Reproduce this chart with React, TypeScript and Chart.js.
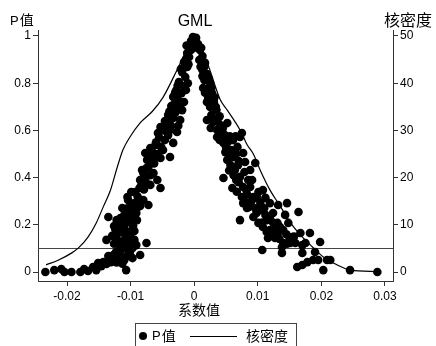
import React, { useEffect, useRef } from "react";
import { Chart, registerables } from "chart.js";

Chart.register(...registerables);

// Coefficient estimates (x) and their p-values (y)
const coefX = [
  -0.0234, -0.0220, -0.0209, -0.0204, -0.0193, -0.0179, -0.0173, -0.0167, -0.0159, -0.0154,
  -0.0151, -0.0146, -0.0143, -0.0138, -0.0135, -0.0131, -0.0107, -0.0126, -0.0135, -0.0127,
  -0.0123, -0.0115, -0.0107, -0.0118, -0.0112, -0.0104, -0.0101, -0.0097, -0.0108, -0.0085,
  -0.0075, -0.0138, -0.0129, -0.0119, -0.0112, -0.0105, -0.0099, -0.0094, -0.0119, -0.0116,
  -0.0135, -0.0126, -0.0110, -0.0102, -0.0096, -0.0107, -0.0099, -0.0113, -0.0093, -0.0088,
  -0.0104, -0.0096, -0.0090, -0.0091, -0.0097, -0.0121, -0.0094, -0.0118, -0.0105, -0.0093,
  -0.0080, -0.0072, -0.0053, -0.0082, -0.0072, -0.0064, -0.0058, -0.0085, -0.0086, -0.0077,
  -0.0069, -0.0053, -0.0038, -0.0033, -0.0057, -0.0046, -0.0027, -0.0050, -0.0041, -0.0030,
  -0.0074, -0.0064, -0.0061, -0.0079, -0.0069, -0.0090, -0.0099, -0.0049, -0.0038, -0.0002,
  -0.0005, -0.0008, -0.0011, -0.0008, -0.0016, -0.0011, -0.0019, -0.0014, -0.0024, -0.0016,
  -0.0028, -0.0020, -0.0033, -0.0025, -0.0016, -0.0036, -0.0028, -0.0019, -0.0041, -0.0033,
  -0.0022, -0.0044, -0.0036, -0.0053, -0.0013, -0.0005,
  -0.0012, -0.0003, -0.0013, -0.0021, -0.0009, -0.0026, -0.0010, -0.0030, -0.0022, -0.0032,
  -0.0039, -0.0046, -0.0025, -0.0048, -0.0041, -0.0055, -0.0060, -0.0052, -0.0066, -0.0058,
  -0.0071, -0.0063, -0.0075, -0.0069, -0.0080, -0.0076, -0.0083, -0.0079, -0.0089, -0.0098,
  -0.0085, -0.0105, -0.0091, -0.0110, -0.0101, -0.0122, -0.0108, -0.0113, -0.0124, -0.0103,
  -0.0109, -0.0126, -0.0114, -0.0103, -0.0120, -0.0110, -0.0113, -0.0122,
  0.0003, 0.0006, 0.0009, 0.0013, 0.0008, 0.0017, 0.0013, 0.0020, 0.0016, 0.0025,
  0.0019, 0.0028, 0.0022, 0.0031, 0.0025, 0.0035, 0.0027, 0.0038, 0.0030, 0.0020,
  0.0041, 0.0014, 0.0036, 0.0044, 0.0052, 0.0036, 0.0046, 0.0053, 0.0061, 0.0072,
  0.0075, 0.0068, 0.0052, 0.0061, 0.0077, 0.0080, 0.0096, 0.0064, 0.0072, 0.0046,
  0.0085, 0.0088, 0.0060, 0.0075, 0.0101, 0.0108, 0.0099, 0.0104, 0.0119, 0.0132,
  0.0146, 0.0057, 0.0069, 0.0079, 0.0049, 0.0058, 0.0088, 0.0082, 0.0093, 0.0112,
  0.0164, 0.0066, 0.0091, 0.0083, 0.0077, 0.0085, 0.0104, 0.0093, 0.0101, 0.0108,
  0.0119, 0.0124, 0.0131, 0.0135, 0.0140, 0.0148, 0.0116, 0.0127, 0.0140, 0.0151,
  0.0159, 0.0170, 0.0175, 0.0182, 0.0167, 0.0198, 0.0107, 0.0138, 0.0138, 0.0170,
  0.0190, 0.0162, 0.0170, 0.0178, 0.0187, 0.0195, 0.0203, 0.0209, 0.0214, 0.0245,
  0.0288, 0.0072, 0.0112, 0.0119, 0.0154, 0.0143,
  0.0011, 0.0004, 0.0016, 0.0010, 0.0023, 0.0013, 0.0027, 0.0017, 0.0032, 0.0020,
  0.0034, 0.0040, 0.0033, 0.0045, 0.0026, 0.0048, 0.0040, 0.0056, 0.0065, 0.0050,
  0.0058, 0.0066, 0.0070, 0.0055, 0.0062, 0.0070, 0.0077, 0.0067, 0.0083, 0.0090,
  0.0079, 0.0096, 0.0110, 0.0098, 0.0114, 0.0124, 0.0107, 0.0127, 0.0114, 0.0131,
  0.0122, 0.0145, 0.0134, 0.0150, 0.0157, 0.0146,
];
const pValues = [
  0.000, 0.008, 0.013, 0.000, 0.000, 0.000, 0.013, 0.004, 0.021, 0.008,
  0.038, 0.025, 0.042, 0.034, 0.051, 0.042, 0.008, 0.055, 0.068, 0.072,
  0.085, 0.093, 0.106, 0.114, 0.127, 0.123, 0.085, 0.059, 0.064, 0.072,
  0.123, 0.136, 0.153, 0.165, 0.169, 0.153, 0.144, 0.174, 0.208, 0.229,
  0.233, 0.195, 0.195, 0.212, 0.195, 0.250, 0.263, 0.271, 0.292, 0.305,
  0.305, 0.242, 0.220, 0.114, 0.102, 0.136, 0.136, 0.059, 0.318, 0.339,
  0.305, 0.284, 0.356, 0.432, 0.445, 0.419, 0.390, 0.390, 0.356, 0.504,
  0.525, 0.483, 0.487, 0.547, 0.589, 0.559, 0.593, 0.614, 0.644, 0.674,
  0.475, 0.475, 0.538, 0.403, 0.369, 0.271, 0.339, 0.517, 0.602, 0.996,
  0.979, 0.953, 0.928, 0.911, 0.890, 0.869, 0.847, 0.826, 0.805, 0.788,
  0.771, 0.758, 0.742, 0.729, 0.720, 0.703, 0.691, 0.686, 0.665, 0.653,
  0.644, 0.627, 0.619, 0.614, 0.771, 0.941,
  0.960, 0.970, 0.900, 0.860, 0.880, 0.790, 0.800, 0.760, 0.710, 0.710,
  0.680, 0.640, 0.620, 0.600, 0.580, 0.570, 0.550, 0.530, 0.510, 0.500,
  0.490, 0.460, 0.440, 0.410, 0.420, 0.380, 0.370, 0.350, 0.320, 0.290,
  0.280, 0.270, 0.250, 0.240, 0.230, 0.220, 0.210, 0.180, 0.180, 0.170,
  0.140, 0.120, 0.100, 0.090, 0.075, 0.050, 0.035, 0.040,
  0.992, 0.966, 0.941, 0.915, 0.898, 0.886, 0.856, 0.839, 0.814, 0.801,
  0.775, 0.758, 0.737, 0.720, 0.699, 0.686, 0.665, 0.653, 0.636, 0.644,
  0.623, 0.780, 0.602, 0.595, 0.631, 0.572, 0.547, 0.551, 0.559, 0.572,
  0.589, 0.530, 0.475, 0.487, 0.504, 0.466, 0.462, 0.432, 0.403, 0.398,
  0.390, 0.360, 0.356, 0.318, 0.339, 0.347, 0.314, 0.292, 0.292, 0.284,
  0.292, 0.453, 0.453, 0.424, 0.508, 0.517, 0.432, 0.347, 0.318, 0.314,
  0.254, 0.390, 0.390, 0.271, 0.292, 0.275, 0.263, 0.233, 0.208, 0.191,
  0.178, 0.250, 0.208, 0.191, 0.178, 0.208, 0.144, 0.144, 0.123, 0.123,
  0.123, 0.114, 0.123, 0.165, 0.165, 0.127, 0.093, 0.106, 0.081, 0.081,
  0.085, 0.021, 0.030, 0.042, 0.051, 0.051, 0.008, 0.051, 0.051, 0.008,
  0.000, 0.220, 0.242, 0.229, 0.148, 0.242,
  0.950, 0.950, 0.870, 0.870, 0.820, 0.830, 0.780, 0.760, 0.740, 0.720,
  0.700, 0.660, 0.640, 0.610, 0.610, 0.580, 0.560, 0.575, 0.575, 0.530,
  0.490, 0.500, 0.470, 0.430, 0.410, 0.380, 0.360, 0.340, 0.330, 0.300,
  0.300, 0.270, 0.270, 0.250, 0.220, 0.210, 0.210, 0.180, 0.170, 0.160,
  0.160, 0.160, 0.140, 0.140, 0.150, 0.120,
];

// Kernel density curve
const densityX = [
  -0.0233, -0.0214, -0.0193, -0.0182, -0.0167, -0.0154, -0.0143, -0.0132, -0.0121, -0.0112,
  -0.0101, -0.0085, -0.0066, -0.0049, -0.0027, -0.0010, 0.0001, 0.0020, 0.0041, 0.0052,
  0.0072, 0.0083, 0.0093, 0.0104, 0.0119, 0.0135, 0.0151, 0.0164, 0.0186, 0.0203,
  0.0225, 0.0245, 0.0288,
];
const densityY = [
  1.5, 2.5, 4.0, 5.1, 7.4, 10.4, 13.8, 17.2, 22.2, 25.9,
  28.6, 31.6, 34.0, 37.0, 42.8, 47.5, 49.5, 44.5, 36.5, 34.3,
  30.1, 27.0, 25.0, 21.5, 17.4, 14.0, 10.5, 8.3, 5.3, 3.2,
  1.5, 0.4, 0.1,
];

const xTicks = [-0.02, -0.01, 0, 0.01, 0.02, 0.03];
const pTicks = [0, 0.2, 0.4, 0.6, 0.8, 1];
const densityTicks = [0, 10, 20, 30, 40, 50];
const refLineP = 0.1;

const titleText = "GML";
const leftAxisTitle = "P值";
const rightAxisTitle = "核密度";
const xAxisTitle = "系数值";
const legendPoint = "P值";
const legendLine = "核密度";

const X_MIN = -0.02456;
const X_MAX = 0.03126;
const P_MIN = -0.0381;
const P_MAX = 1.0254;
const D_SCALE = 50;

const SANS = '"Liberation Sans", Arial, sans-serif';
const CJK = '"Noto Sans CJK SC", "Noto Sans", sans-serif';
const AXIS_COLOR = "#333";

const fmt = (v: number) => String(+v.toFixed(3));

const annotations = {
  id: "stataAnnotations",
  beforeDatasetsDraw(chart: any) {
    const { ctx, chartArea, scales } = chart;
    const y = Math.round(scales.y.getPixelForValue(refLineP)) + 0.5;
    ctx.save();
    ctx.strokeStyle = "#444";
    ctx.lineWidth = 1;
    ctx.beginPath();
    ctx.moveTo(chartArea.left, y);
    ctx.lineTo(chartArea.right, y);
    ctx.stroke();
    ctx.restore();
  },
  afterDraw(chart: any) {
    const { ctx } = chart;
    ctx.save();
    ctx.fillStyle = "#000";
    ctx.textBaseline = "alphabetic";
    ctx.font = `16px ${SANS}`;
    ctx.textAlign = "center";
    ctx.fillText(titleText, 195, 26);
    ctx.textAlign = "left";
    ctx.font = `13px ${SANS}`;
    ctx.fillText(leftAxisTitle.slice(0, 1), 10, 25);
    const pw = ctx.measureText(leftAxisTitle.slice(0, 1)).width;
    ctx.font = `14px ${CJK}`;
    ctx.fillText(leftAxisTitle.slice(1), 10 + pw + 1, 25);
    ctx.font = `16px ${CJK}`;
    ctx.fillText(rightAxisTitle, 384, 26);
    ctx.textAlign = "center";
    ctx.font = `14px ${CJK}`;
    ctx.fillText(xAxisTitle, 199, 315);

    ctx.strokeStyle = "#444";
    ctx.lineWidth = 1;
    ctx.strokeRect(135.5, 323.5, 161, 30);
    const ly = 336;
    ctx.beginPath();
    ctx.arc(143, ly, 4, 0, Math.PI * 2);
    ctx.fill();
    ctx.textAlign = "left";
    ctx.textBaseline = "middle";
    ctx.font = `13px ${SANS}`;
    ctx.fillText(legendPoint.slice(0, 1), 152, ly);
    const lw = ctx.measureText(legendPoint.slice(0, 1)).width;
    ctx.font = `14px ${CJK}`;
    ctx.fillText(legendPoint.slice(1), 152 + lw + 1, ly);
    ctx.strokeStyle = "#000";
    ctx.lineWidth = 1.2;
    ctx.beginPath();
    ctx.moveTo(190, ly + 0.5);
    ctx.lineTo(237, ly + 0.5);
    ctx.stroke();
    ctx.font = `14px ${CJK}`;
    ctx.fillText(legendLine, 246, ly);
    ctx.restore();
  },
};

export default function App() {
  const canvasRef = useRef<HTMLCanvasElement | null>(null);

  useEffect(() => {
    if (!canvasRef.current) return;
    const scatterData = coefX.map((x, i) => ({ x, y: pValues[i] }));
    const densityData = densityX.map((x, i) => ({ x, y: densityY[i] }));
    const tickCommon = {
      color: "#000",
      font: { family: SANS, size: 12 },
    };
    const gridCommon = {
      display: true,
      drawOnChartArea: false,
      drawTicks: true,
      tickLength: 5,
      color: AXIS_COLOR,
      lineWidth: 1,
    };
    const chart = new Chart(canvasRef.current, {
      type: "scatter",
      data: {
        datasets: [
          {
            type: "scatter",
            label: legendPoint,
            data: scatterData,
            xAxisID: "x",
            yAxisID: "y",
            pointRadius: 4.3,
            pointBorderWidth: 0,
            pointBackgroundColor: "#000",
            backgroundColor: "#000",
            borderColor: "#000",
          },
          {
            type: "line",
            label: legendLine,
            data: densityData,
            xAxisID: "x",
            yAxisID: "y2",
            borderColor: "#000",
            borderWidth: 1.2,
            pointRadius: 0,
            fill: false,
            cubicInterpolationMode: "monotone",
          },
        ],
      } as any,
      options: {
        responsive: false,
        animation: false,
        layout: { padding: { top: 30, left: 0, right: 0, bottom: 0 } },
        plugins: {
          legend: { display: false },
          title: { display: false },
          tooltip: { enabled: false },
        },
        scales: {
          x: {
            type: "linear",
            position: "bottom",
            min: X_MIN,
            max: X_MAX,
            afterBuildTicks: (s: any) => {
              s.ticks = xTicks.map((v) => ({ value: v }));
            },
            afterFit: (s: any) => {
              s.height = 65;
            },
            ticks: { ...tickCommon, padding: 3, maxRotation: 0, autoSkip: false, callback: (v: any) => fmt(v) },
            grid: gridCommon,
            border: { display: true, color: AXIS_COLOR, width: 1 },
          },
          y: {
            type: "linear",
            position: "left",
            min: P_MIN,
            max: P_MAX,
            afterBuildTicks: (s: any) => {
              s.ticks = pTicks.map((v) => ({ value: v }));
            },
            afterFit: (s: any) => {
              s.width = 38;
            },
            ticks: { ...tickCommon, padding: 2, autoSkip: false, callback: (v: any) => fmt(v) },
            grid: gridCommon,
            border: { display: true, color: AXIS_COLOR, width: 1 },
          },
          y2: {
            type: "linear",
            position: "right",
            min: P_MIN * D_SCALE,
            max: P_MAX * D_SCALE,
            afterBuildTicks: (s: any) => {
              s.ticks = densityTicks.map((v) => ({ value: v }));
            },
            afterFit: (s: any) => {
              s.width = 43;
            },
            ticks: { ...tickCommon, padding: 2, autoSkip: false, callback: (v: any) => fmt(v) },
            grid: gridCommon,
            border: { display: true, color: AXIS_COLOR, width: 1 },
          },
        },
      } as any,
      plugins: [annotations],
    });
    return () => chart.destroy();
  }, []);

  return (
    <div style={{ position: "fixed", left: 0, top: 0, width: 436, height: 346, background: "#fff" }}>
      <canvas ref={canvasRef} width={436} height={346} style={{ display: "block" }} />
    </div>
  );
}
